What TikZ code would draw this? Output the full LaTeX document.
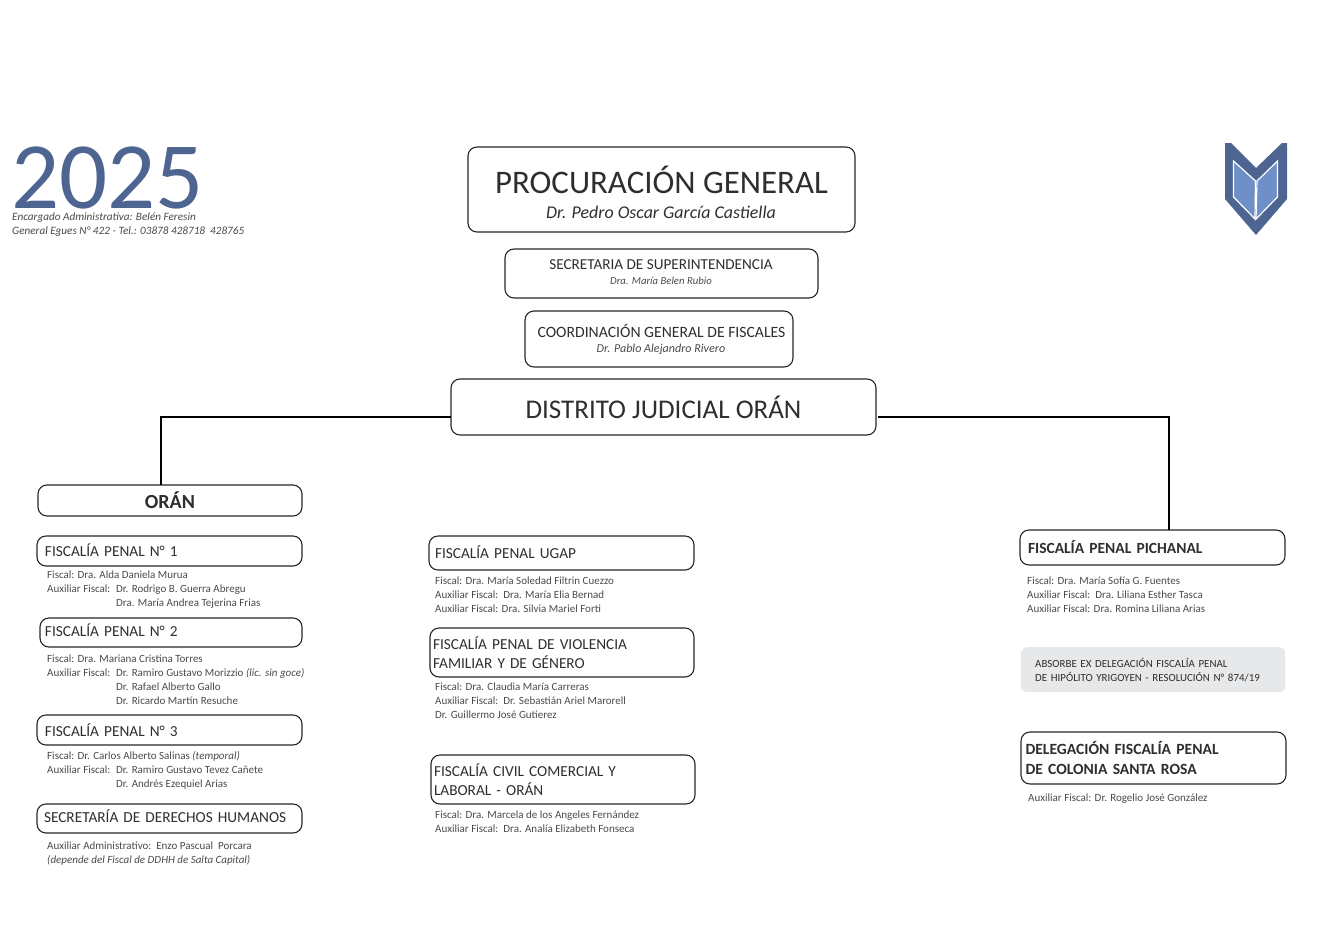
\documentclass[tikz,border=0pt]{standalone}
\usepackage{fontspec}
\setmainfont{Carlito}
\usetikzlibrary{positioning}
\definecolor{logoblue}{HTML}{4F6591}
\definecolor{logolight}{HTML}{6F8FC9}
\definecolor{inkdark}{HTML}{2E2E2E}
\definecolor{inksmall}{HTML}{4A4A4A}
\definecolor{notegray}{HTML}{E7E8EA}
\newcommand{\auxcol}[1]{\makebox[69pt][l]{#1}}

\begin{document}
\begin{tikzpicture}[x=1pt, y=-1pt]
\tikzset{
    roundbox/.style={
        draw=black!85,
        line width=1.1pt,
        rounded corners=9pt,
        text=inkdark,
        align=center,
        anchor=north west,
        inner sep=0pt,
        outer sep=0pt,
    },
    headbox/.style={
        roundbox,
        align=left,
        text width=#1,
        font=\fontsize{15.3}{19}\selectfont,
    },
    staff/.style={
        anchor=north west,
        inner sep=0pt,
        align=left,
        text=inksmall,
        font=\fontsize{11}{13.9}\selectfont,
    },
    link/.style={
        draw=black,
        line width=1.8pt,
    },
}
    \useasboundingbox (0,0) rectangle (1334,940);

    % year and address
    \node (year) at (11,147) [anchor=north west, inner sep=0pt, text=logoblue,
        font=\fontsize{95}{95}\selectfont] {2025};
    \node (office) at (12,213) [staff, font=\fontsize{11.2}{14}\selectfont\itshape]
        {Encargado Administrativa: Belén Feresin\\General Egues N° 422 - Tel.: 03878 428718\ \ 428765};

    % logo
    \fill[logoblue] (1225,143) -- (1231,143) -- (1256,168) -- (1282,143) -- (1287,143)
        -- (1287,199) -- (1256,235) -- (1225,199) -- cycle;
    \filldraw[fill=logolight, draw=white, line width=1.2pt] (1233.5,161) -- (1255.5,181) -- (1255,219) -- (1233.5,197) -- cycle;
    \filldraw[fill=logolight, draw=white, line width=1.2pt] (1277.5,161) -- (1257,181) -- (1256,219) -- (1277.5,197) -- cycle;

    % top boxes
    \node[roundbox, minimum width=387pt, minimum height=85pt] (general) at (468,147) {};
    \node (generaltitle) at (661.5,180) [text=inkdark, font=\fontsize{32.9}{33}\selectfont] {PROCURACIÓN GENERAL};
    \node (generalname) at (661,212) [text=inkdark, font=\fontsize{17.9}{18}\selectfont\itshape] {Dr. Pedro Oscar García Castiella};

    \node[roundbox, minimum width=313pt, minimum height=49pt] (super) at (505,249) {};
    \node (supertitle) at (661,265) [text=inkdark, font=\fontsize{15.2}{15}\selectfont] {SECRETARIA DE SUPERINTENDENCIA};
    \node (supername) at (661,281) [text=inksmall, font=\fontsize{10.7}{12}\selectfont\itshape] {Dra. María Belen Rubio};

    \node[roundbox, minimum width=268pt, minimum height=56pt] (coord) at (525,311) {};
    \node (coordtitle) at (661.5,331) [text=inkdark, font=\fontsize{15.7}{16}\selectfont] {COORDINACIÓN GENERAL DE FISCALES};
    \node (coordname) at (661,349) [text=inksmall, font=\fontsize{12.1}{12}\selectfont\itshape] {Dr. Pablo Alejandro Rivero};

    \node[roundbox, minimum width=425pt, minimum height=56pt, font=\fontsize{27}{27}\selectfont] (distrito) at (451,379) {DISTRITO JUDICIAL ORÁN};

    % left column
    \node[roundbox, minimum width=264pt, minimum height=31pt, text depth=1pt, font=\fontsize{20}{20}\selectfont\bfseries] (oran) at (38,485) {ORÁN};

    \node[headbox=249pt, inner xsep=8pt, minimum height=30pt, text depth=2pt] (fone) at (37,536) {FISCALÍA PENAL N° 1};
    \node (fonestaff) [staff, below right=5pt and 10pt of fone.south west]
        {Fiscal: Dra. Alda Daniela Murua\\
         \auxcol{Auxiliar Fiscal:}Dr. Rodrigo B. Guerra Abregu\\
         \auxcol{}Dra. María Andrea Tejerina Frias};

    \node[headbox=252pt, inner xsep=5pt, minimum height=29pt, text depth=5pt] (ftwo) at (40,618) {FISCALÍA PENAL N° 2};
    \node (ftwostaff) [staff, below right=8pt and 7pt of ftwo.south west]
        {Fiscal: Dra. Mariana Cristina Torres\\
         \auxcol{Auxiliar Fiscal:}Dr. Ramiro Gustavo Morizzio \textit{(lic. sin goce)}\\
         \auxcol{}Dr. Rafael Alberto Gallo\\
         \auxcol{}Dr. Ricardo Martín Resuche};

    \node[headbox=249pt, inner xsep=8pt, minimum height=30pt] (fthree) at (37,715) {FISCALÍA PENAL N° 3};
    \node (fthreestaff) [staff, below right=6pt and 10pt of fthree.south west]
        {Fiscal: Dr. Carlos Alberto Salinas \textit{(temporal)}\\
         \auxcol{Auxiliar Fiscal:}Dr. Ramiro Gustavo Tevez Cañete\\
         \auxcol{}Dr. Andrés Ezequiel Arias};

    \node[headbox=251pt, inner xsep=7pt, minimum height=29pt, text depth=4pt] (ddhh) at (37,804) {SECRETARÍA DE DERECHOS HUMANOS};
    \node (ddhhstaff) [staff, below right=9pt and 10pt of ddhh.south west]
        {Auxiliar Administrativo:\ \ Enzo Pascual\ \ Porcara\\
         \textit{(depende del Fiscal de DDHH de Salta Capital)}};

    % middle column
    \node[headbox=253pt, inner xsep=6pt, minimum height=34pt, text depth=2pt] (ugap) at (429,536) {FISCALÍA PENAL UGAP};
    \node (ugapstaff) [staff, below right=7pt and 6pt of ugap.south west]
        {Fiscal: Dra. María Soledad Filtrin Cuezzo\\
         Auxiliar Fiscal:\ \ Dra. María Elia Bernad\\
         Auxiliar Fiscal: Dra. Silvia Mariel Forti};

    \node[headbox=258pt, inner xsep=3pt, minimum height=49pt] (violencia) at (430,628) {FISCALÍA PENAL DE VIOLENCIA\\FAMILIAR Y DE GÉNERO};
    \node (violenciastaff) [staff, below right=6pt and 5pt of violencia.south west]
        {Fiscal: Dra. Claudia María Carreras\\
         Auxiliar Fiscal:\ \ Dr. Sebastián Ariel Marorell\\
         Dr. Guillermo José Gutierez};

    \node[headbox=258pt, inner xsep=3pt, minimum height=49pt] (civil) at (431,755) {FISCALÍA CIVIL COMERCIAL Y\\LABORAL - ORÁN};
    \node (civilstaff) [staff, below right=7pt and 4pt of civil.south west]
        {Fiscal: Dra. Marcela de los Angeles Fernández\\
         Auxiliar Fiscal:\ \ Dra. Analía Elizabeth Fonseca};

    % right column
    \node[headbox=249pt, inner xsep=8pt, minimum height=35pt, font=\fontsize{15.5}{19}\selectfont\bfseries] (pichanal) at (1020,530) {FISCALÍA PENAL PICHANAL};
    \node (pichanalstaff) [staff, below right=12pt and 7pt of pichanal.south west]
        {Fiscal: Dra. María Sofía G. Fuentes\\
         Auxiliar Fiscal:\ \ Dra. Liliana Esther Tasca\\
         Auxiliar Fiscal: Dra. Romina Liliana Arias};

    \node[anchor=north west, fill=notegray, rounded corners=6pt, minimum width=264pt, minimum height=45pt,
        inner xsep=14pt, inner ysep=0pt, text width=236pt, align=left, text=inkdark,
        font=\fontsize{10.9}{14}\selectfont] (absorbe) at (1021,647)
        {ABSORBE EX DELEGACIÓN FISCALÍA PENAL\\DE HIPÓLITO YRIGOYEN - RESOLUCIÓN N° 874/19};

    \node[headbox=260pt, inner xsep=2.5pt, minimum height=52pt, font=\fontsize{15.6}{20}\selectfont\bfseries] (delegacion) at (1021,732) {\hspace{2pt}DELEGACIÓN FISCALÍA PENAL\\\hspace{2pt}DE COLONIA SANTA ROSA};
    \node (delegacionstaff) [staff, below right=10pt and 7pt of delegacion.south west]
        {Auxiliar Fiscal: Dr. Rogelio José González};

    % connectors
    \draw[link] ([yshift=-10pt]distrito.west) -| ([xshift=-9pt]oran.north);
    \draw[link] ([xshift=2pt, yshift=-10pt]distrito.east) -| ([xshift=16.5pt]pichanal.north);
\end{tikzpicture}
\end{document}
